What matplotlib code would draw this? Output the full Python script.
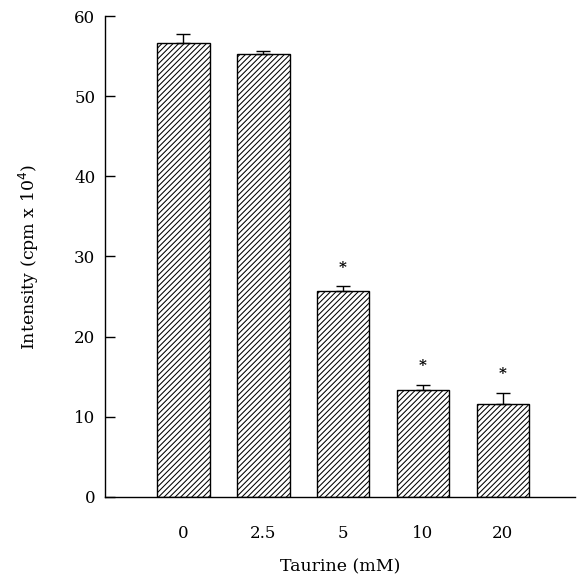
import matplotlib
matplotlib.use("Agg")
import matplotlib.pyplot as plt
import numpy as np

plt.rcParams['font.family'] = ['DejaVu Serif']
plt.rcParams['hatch.linewidth'] = 0.75

categories = ["0", "2.5", "5", "10", "20"]
intensity = [56.7, 55.3, 25.7, 13.3, 11.6]
errors = [1.1, 0.3, 0.6, 0.7, 1.4]
significant = [False, False, True, True, True]

fig = plt.figure(figsize=(5.8, 5.75), dpi=100)
ax = fig.add_axes([0.181, 0.136, 0.81, 0.836])

x = np.arange(len(categories))
ax.bar(x, intensity, width=0.66, color='white', edgecolor='black',
       linewidth=1.0, hatch='//////')
ax.errorbar(x, intensity, yerr=[np.zeros(len(errors)), errors], fmt='none',
            ecolor='black', elinewidth=1.0, capsize=5, capthick=1.0)

for xi, v, e, s in zip(x, intensity, errors, significant):
    if s:
        ax.text(xi, v + e + 2.3, '*', ha='center', va='center', fontsize=11,
                fontweight='bold')

ax.set_xlim(-0.98, 4.9)
ax.set_ylim(0, 60)
ax.set_yticks([0, 10, 20, 30, 40, 50, 60])
ax.set_xticks(x)
ax.set_xticklabels(categories)
ax.tick_params(axis='y', direction='in', length=7, width=1, labelsize=12, pad=7)
ax.tick_params(axis='x', length=0, labelsize=12, pad=20)
for side in ['top', 'right']:
    ax.spines[side].set_visible(False)
ax.spines['left'].set_linewidth(1)
ax.spines['bottom'].set_linewidth(1)

ax.set_ylabel(r'Intensity (cpm x 10$^4$)', fontsize=12.5, labelpad=24)
ax.set_xlabel('Taurine (mM)', fontsize=12.5, labelpad=12)

fig.savefig('out.png', dpi=100)
